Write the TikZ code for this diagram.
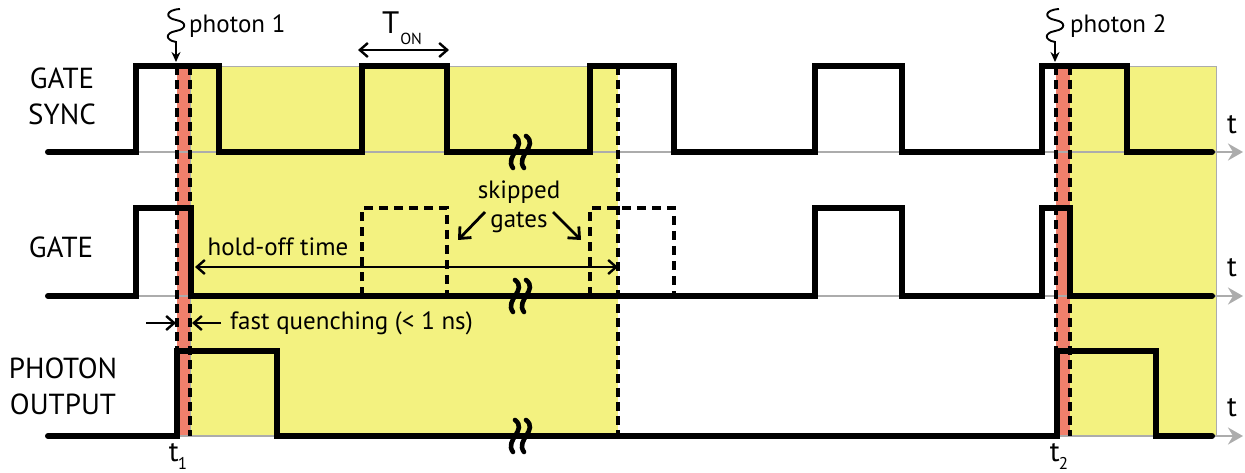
\documentclass[tikz,border=0pt]{standalone}
\usepackage{fontspec}
\setmainfont{PT Sans}
\usetikzlibrary{%
	calc,%
	arrows.meta,%
	positioning,%
}
\definecolor{cyellow}{RGB}{243, 242, 128}
\definecolor{cred}{RGB}{240, 128, 108}
\definecolor{caxis}{RGB}{172, 172, 172}
\tikzset{
	>={Straight Barb[length=8pt,width=14pt]},%
	nodes={align=center, inner sep=0},%
	wave/.style={%
			line width=6pt,%
			line cap=round,%
			line join=miter},%
	skipgate/.style={%
			line width=3.2pt,%
			dash pattern=on 9pt off 6pt},%
	marker/.style={%
			line width=3.4pt,%
			dash pattern=on 9pt off 5pt},%
	axis/.style={%
			draw=caxis,%
			line width=2.2pt,%
			-{Stealth[length=15pt,width=17pt,inset=5pt]}},%
	holdzone/.style={%
			fill=cyellow,%
			draw=caxis,%
			line width=0.6pt},%
	quench/.style={%
			fill=cred},%
	siglabel/.style={%
			font={\fontsize{29}{36}\selectfont}},%
	tlabel/.style={%
			font={\fontsize{29}{30}\selectfont}},%
	photonarrow/.style={%
			line width=1.9pt,%
			-{Stealth[length=10pt,width=9pt]}},%
	wavebreak/.pic={%
			\draw[line width=4.6pt, line cap=round] (-1,-16) .. controls (12,-6) and (-12,4) .. (-3,16);
			\draw[line width=4.6pt, line cap=round] (10,-16) .. controls (23,-6) and (-1,4) .. (8,16);},%
}

\begin{document}
\begin{tikzpicture}[x=1pt, y=-1pt, font={\fontsize{25}{29}\selectfont}]
	\useasboundingbox (0,0) rectangle (1245,473);

	% hold-off zones and quenching strips
	\filldraw[holdzone] (190,66) rectangle (1216,436);
	\fill[white] (618,64) rectangle (1070,438);
	\fill[quench] (177,66) rectangle (190,436);
	\fill[quench] (1056,66) rectangle (1070,436);

	% time axes
	\draw[axis] (48,152) -- (1243,152);
	\draw[axis] (48,296) -- (1243,296);
	\draw[axis] (48,436) -- (1243,436);
	\node[tlabel] (tsync) at (1232,125) {t};
	\node[tlabel] (tgate) at (1232,268) {t};
	\node[tlabel] (tout) at (1232,408) {t};

	% markers
	\draw[marker] (177,66) -- (177,436);
	\draw[marker] (190,66) -- (190,436);
	\draw[marker] (618,66) -- (618,436);
	\draw[marker] (1056,66) -- (1056,436);
	\draw[marker] (1070,66) -- (1070,436);

	% skipped gates
	\draw[skipgate] (362,296) -- (362,208) -- (447,208) -- (447,296);
	\draw[skipgate] (590,296) -- (590,208) -- (674,208) -- (674,296);

	% waveforms
	\draw[wave] (48,152) -- (136,152) -- (136,66) -- (219,66) -- (219,152) -- (362,152) -- (362,66) -- (447,66) -- (447,152)
		-- (590,152) -- (590,66) -- (674,66) -- (674,152) -- (815,152) -- (815,66) -- (902,66) -- (902,152)
		-- (1042,152) -- (1042,66) -- (1127,66) -- (1127,152) -- (1212,152);
	\draw[wave] (48,296) -- (136,296) -- (136,208) -- (191,208) -- (191,296) -- (815,296) -- (815,208) -- (902,208) -- (902,296)
		-- (1042,296) -- (1042,208) -- (1070,208) -- (1070,296) -- (1212,296);
	\draw[wave] (48,436) -- (177,436) -- (177,351) -- (277,351) -- (277,436) -- (1057,436) -- (1057,351) -- (1156,351) -- (1156,436) -- (1212,436);

	\pic at (516,152) {wavebreak};
	\pic at (516,296) {wavebreak};
	\pic at (516,436) {wavebreak};

	% signal names
	\node[siglabel] (sync) at (62,96) {GATE\\SYNC};
	\node[siglabel] (gate) at (61,247) {GATE};
	\node[siglabel] (phout) at (63,386) {PHOTON\\OUTPUT};

	% photons
	\coordinate (w1) at (180,9);
	\coordinate (w1tip) at (176,62);
	\draw[photonarrow] (w1) .. controls (165,10) and (165,18) .. (176,20) .. controls (187,22) and (187,29) .. (176,31)
		.. controls (165,33) and (165,40) .. (176,42) -- (w1tip);
	\node (ph1) [anchor=west] at (189,26) {photon 1};
	\coordinate (w2) at (1059,9);
	\coordinate (w2tip) at (1055,62);
	\draw[photonarrow] (w2) .. controls (1044,10) and (1044,18) .. (1055,20) .. controls (1066,22) and (1066,29) .. (1055,31)
		.. controls (1044,33) and (1044,40) .. (1055,42) -- (w2tip);
	\node (ph2) [anchor=west] at (1070,26) {photon 2};

	% gate width
	\coordinate (ton1) at (358,50);
	\coordinate (ton2) at (449,50);
	\draw[<->, line width=2.4pt] (ton1) to (ton2);
	\node (ton) at (402,28) {\fontsize{31}{31}\selectfont T\kern1pt\raisebox{-11pt}{\fontsize{16}{16}\selectfont ON}};

	% hold-off time
	\coordinate (ho1) at (195,267);
	\coordinate (ho2) at (618,267);
	\draw[<->, line width=2.4pt] (ho1) to (ho2);
	\node (hold) at (278,247) {hold-off time};

	% fast quenching
	\coordinate (fq1) at (146,323);
	\coordinate (fq2) at (176,323);
	\coordinate (fq3) at (221,323);
	\coordinate (fq4) at (192,323);
	\draw[->, line width=2.4pt] (fq1) to (fq2);
	\draw[->, line width=2.4pt] (fq3) to (fq4);
	\node (quench) [anchor=west] at (230,323) {fast quenching (< 1 ns)};

	% skipped gates
	\node (skip) at (519,207) {skipped\\gates};
	\coordinate (sk1) at (458,240);
	\coordinate (sk2) at (581,240);
	\draw[->, line width=2.8pt, >={Straight Barb[length=9pt,width=16pt]}] (485,212) to (sk1);
	\draw[->, line width=2.8pt, >={Straight Barb[length=9pt,width=16pt]}] (553,212) to (sk2);

	% detection times
	\node[tlabel] (t1) at (178,456) {t\kern-1pt\raisebox{-8pt}{\fontsize{17}{17}\selectfont 1}};
	\node[tlabel] (t2) at (1059,456) {t\kern-1pt\raisebox{-8pt}{\fontsize{17}{17}\selectfont 2}};
\end{tikzpicture}
\end{document}
